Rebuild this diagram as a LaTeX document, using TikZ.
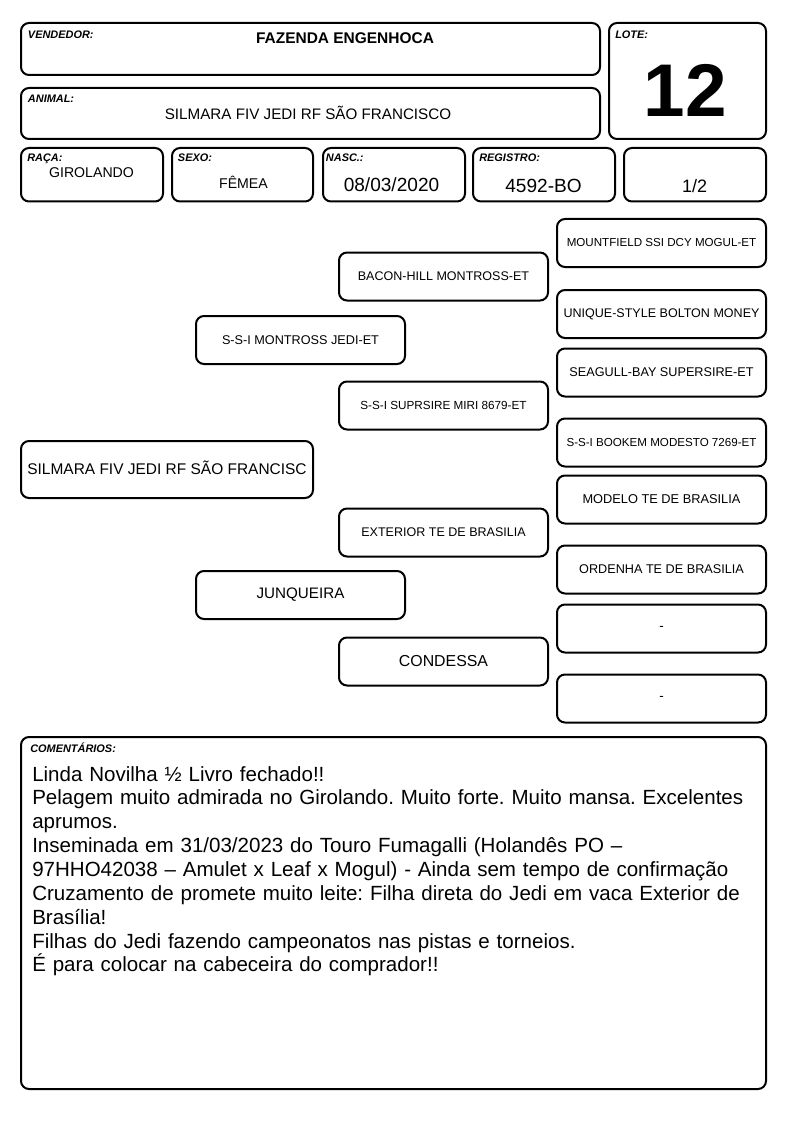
\documentclass[tikz,border=0pt]{standalone}
\usepackage{fontspec}
\setmainfont{Liberation Sans}
\frenchspacing
\newcommand{\fsz}[1]{\fontsize{#1pt}{#1pt}\selectfont}
\tikzset{%
  field/.style 2 args = {draw, line width=1.5pt, rounded corners=6pt, rectangle,
    inner sep=0pt, minimum width=#1*0.75pt, minimum height=#2*0.75pt},
  ped/.style   = {field={209}{48}}, % pedigree box
  lbl/.style   = {anchor=base west, inner sep=0pt, font=\fsz{8.2}\bfseries\itshape}, % field caption
  val/.style   = {anchor=base, inner sep=0pt} % field value
}
\begin{document}
\begin{tikzpicture}[x=0.75pt, y=-0.75pt]
\useasboundingbox (0,0) rectangle (794,1123);
% header fields
\node[field={579}{52}] (vendedor) at (310.5,49) {};
\node[field={579}{51}] (animal) at (310.5,113.5) {};
\node[field={157}{116}] (lote) at (687.5,81) {};
\node[field={142}{53.5}] (raca) at (92,174.75) {};
\node[field={141}{53.5}] (sexo) at (242.5,174.75) {};
\node[field={142}{53.5}] (nasc) at (394,174.75) {};
\node[field={142}{53.5}] (registro) at (544,174.75) {};
\node[field={142}{53.5}] (grau) at (695,174.75) {};
\node[lbl] (vendedorlbl) at (27.7,39) {VENDEDOR:};
\node[lbl] (animallbl) at (27.7,103) {ANIMAL:};
\node[lbl] (lotelbl) at (615,39) {LOTE:};
\node[lbl] (racalbl) at (27,162) {RAÇA:};
\node[lbl] (sexolbl) at (177.7,162) {SEXO:};
\node[lbl] (nasclbl) at (325.7,162) {NASC.:};
\node[lbl] (registrolbl) at (479,162) {REGISTRO:};
\node[val, font=\fsz{11.6}\bfseries] (vendedorval) at (345,43.3) {FAZENDA ENGENHOCA};
\node[val, font=\fsz{11.4}] (animalval) at (308,119.3) {SILMARA FIV JEDI RF SÃO FRANCISCO};
\node[val, font=\fsz{56}\bfseries] (loteval) at (685.5,116.7) {12};
\node[val, font=\fsz{10.6}] (racaval) at (91.5,178) {GIROLANDO};
\node[val, font=\fsz{10.6}] (sexoval) at (243.5,189) {FÊMEA};
\node[val, font=\fsz{14.3}] (nascval) at (391.5,192) {08/03/2020};
\node[val, font=\fsz{14.3}] (registroval) at (543.5,193) {4592-BO};
\node[val, font=\fsz{13.5}] (grauval) at (694.5,193) {1/2};
% pedigree
\node[field={292}{57}, font=\fsz{11.6}, text height=8.3pt] (animalped) at (167,469.5) {SILMARA FIV JEDI RF SÃO FRANCISC};
\node[ped, font=\fsz{9.5}] (pai) at (300.5,340) {S-S-I MONTROSS JEDI-ET};
\node[ped, font=\fsz{11.4}] (mae) at (300.5,595) {JUNQUEIRA};
\node[ped, font=\fsz{9.4}] (avop) at (443.5,276.5) {BACON-HILL MONTROSS-ET};
\node[ped, font=\fsz{8.8}] (avomp) at (443.5,405.5) {S-S-I SUPRSIRE MIRI 8679-ET};
\node[ped, font=\fsz{9.4}] (avom) at (443.5,532.5) {EXTERIOR TE DE BRASILIA};
\node[ped, font=\fsz{11.9}] (avomm) at (443.5,661.5) {CONDESSA};
\node[ped, font=\fsz{8.7}] (bisa1) at (661.5,243) {MOUNTFIELD SSI DCY MOGUL-ET};
\node[ped, font=\fsz{9.4}] (bisa2) at (661.5,314) {UNIQUE-STYLE BOLTON MONEY};
\node[ped, font=\fsz{9.5}] (bisa3) at (661.5,372.5) {SEAGULL-BAY SUPERSIRE-ET};
\node[ped, font=\fsz{8.7}] (bisa4) at (661.5,442.5) {S-S-I BOOKEM MODESTO 7269-ET};
\node[ped, font=\fsz{9.6}] (bisa5) at (661.5,499.5) {MODELO TE DE BRASILIA};
\node[ped, font=\fsz{9.5}] (bisa6) at (661.5,569.5) {ORDENHA TE DE BRASILIA};
\node[ped, font=\fsz{10}] (bisa7) at (661.5,628.5) {-};
\node[ped, font=\fsz{10}] (bisa8) at (661.5,698.5) {-};
% comments
\node[field={745}{352}] (comentarios) at (393.5,913) {};
\node[lbl] (comentarioslbl) at (30,752.7) {COMENTÁRIOS:};
\node[anchor=base west, inner sep=0pt, text width=720pt*0.75, align=left,
  font=\fontsize{15.4pt}{17.9pt}\selectfont] (comentariostxt) at (32,781) {%
  Linda Novilha ½ Livro fechado!!\\
  Pelagem muito admirada no Girolando. Muito forte. Muito mansa. Excelentes\\
  aprumos.\\
  Inseminada em 31/03/2023 do Touro Fumagalli (Holandês PO –\\
  97HHO42038 – Amulet x Leaf x Mogul) - Ainda sem tempo de confirmação\\
  Cruzamento de promete muito leite: Filha direta do Jedi em vaca Exterior de\\
  Brasília!\\
  Filhas do Jedi fazendo campeonatos nas pistas e torneios.\\
  É para colocar na cabeceira do comprador!!};
\end{tikzpicture}
\end{document}
